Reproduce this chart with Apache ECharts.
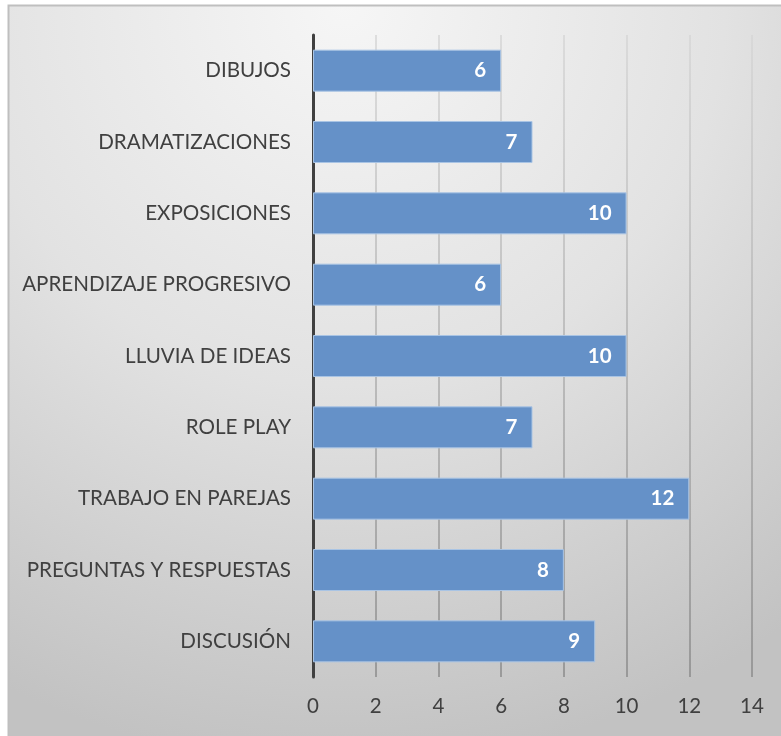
<!DOCTYPE html>
<html>
<head>
<meta charset="utf-8">
<script src="https://cdn.jsdelivr.net/npm/echarts@6/dist/echarts.min.js"></script>
<style>
html,body{margin:0;padding:0;background:#fff;}
#c{width:781px;height:736px;}
</style>
</head>
<body>
<div id="c"></div>
<script>
const categories = ['DISCUSIÓN','PREGUNTAS Y RESPUESTAS','TRABAJO EN PAREJAS','ROLE PLAY','LLUVIA DE IDEAS','APRENDIZAJE PROGRESIVO','EXPOSICIONES','DRAMATIZACIONES','DIBUJOS'];
const values = [9,8,12,7,10,6,10,7,6];
const xMin = 0, xMax = 14, xInterval = 2;

const chart = echarts.init(document.getElementById('c'), null, {renderer:'canvas'});
const font = 'Lato, "Open Sans", sans-serif';
chart.setOption({
  backgroundColor: '#ffffff',
  graphic: [{
    type: 'rect', z: -10, silent: true,
    shape: {x: 8.5, y: 5.5, width: 800, height: 800},
    style: {
      fill: new echarts.graphic.RadialGradient(0.42, 0.0, 0.95, [
        {offset: 0, color: '#f6f6f6'},
        {offset: 0.5, color: '#e2e2e2'},
        {offset: 1, color: '#c2c2c2'}
      ]),
      stroke: '#bfbfbf', lineWidth: 2
    }
  }],
  grid: {left: 313, right: 29, top: 35, bottom: 59, containLabel: false},
  xAxis: {
    type: 'value', min: xMin, max: xMax, interval: xInterval,
    axisLine: {show: false}, axisTick: {show: false},
    axisLabel: {color: '#404040', fontSize: 20.5, fontFamily: font, margin: 19},
    splitLine: {show: true, lineStyle: {width: 1.5, color: new echarts.graphic.LinearGradient(0,0,0,1,[
      {offset:0,color:'#d6d6d6'},{offset:1,color:'#8a8a8a'}])}}
  },
  yAxis: {
    type: 'category', data: categories,
    axisLine: {show: true, lineStyle: {color: '#404040', width: 3}},
    axisTick: {show: false},
    axisLabel: {color: '#404040', fontSize: 20.6, fontFamily: font, margin: 22},
    splitLine: {show: false}
  },
  series: [{
    type: 'bar', data: values, barWidth: 42,
    itemStyle: {color: '#6591c8', borderColor: '#a9c4e4', borderWidth: 1},
    label: {show: true, position: 'insideRight', distance: 15, color: '#ffffff', fontWeight: 'bold', fontSize: 20.5, fontFamily: font}
  }]
});
</script>
</body>
</html>
